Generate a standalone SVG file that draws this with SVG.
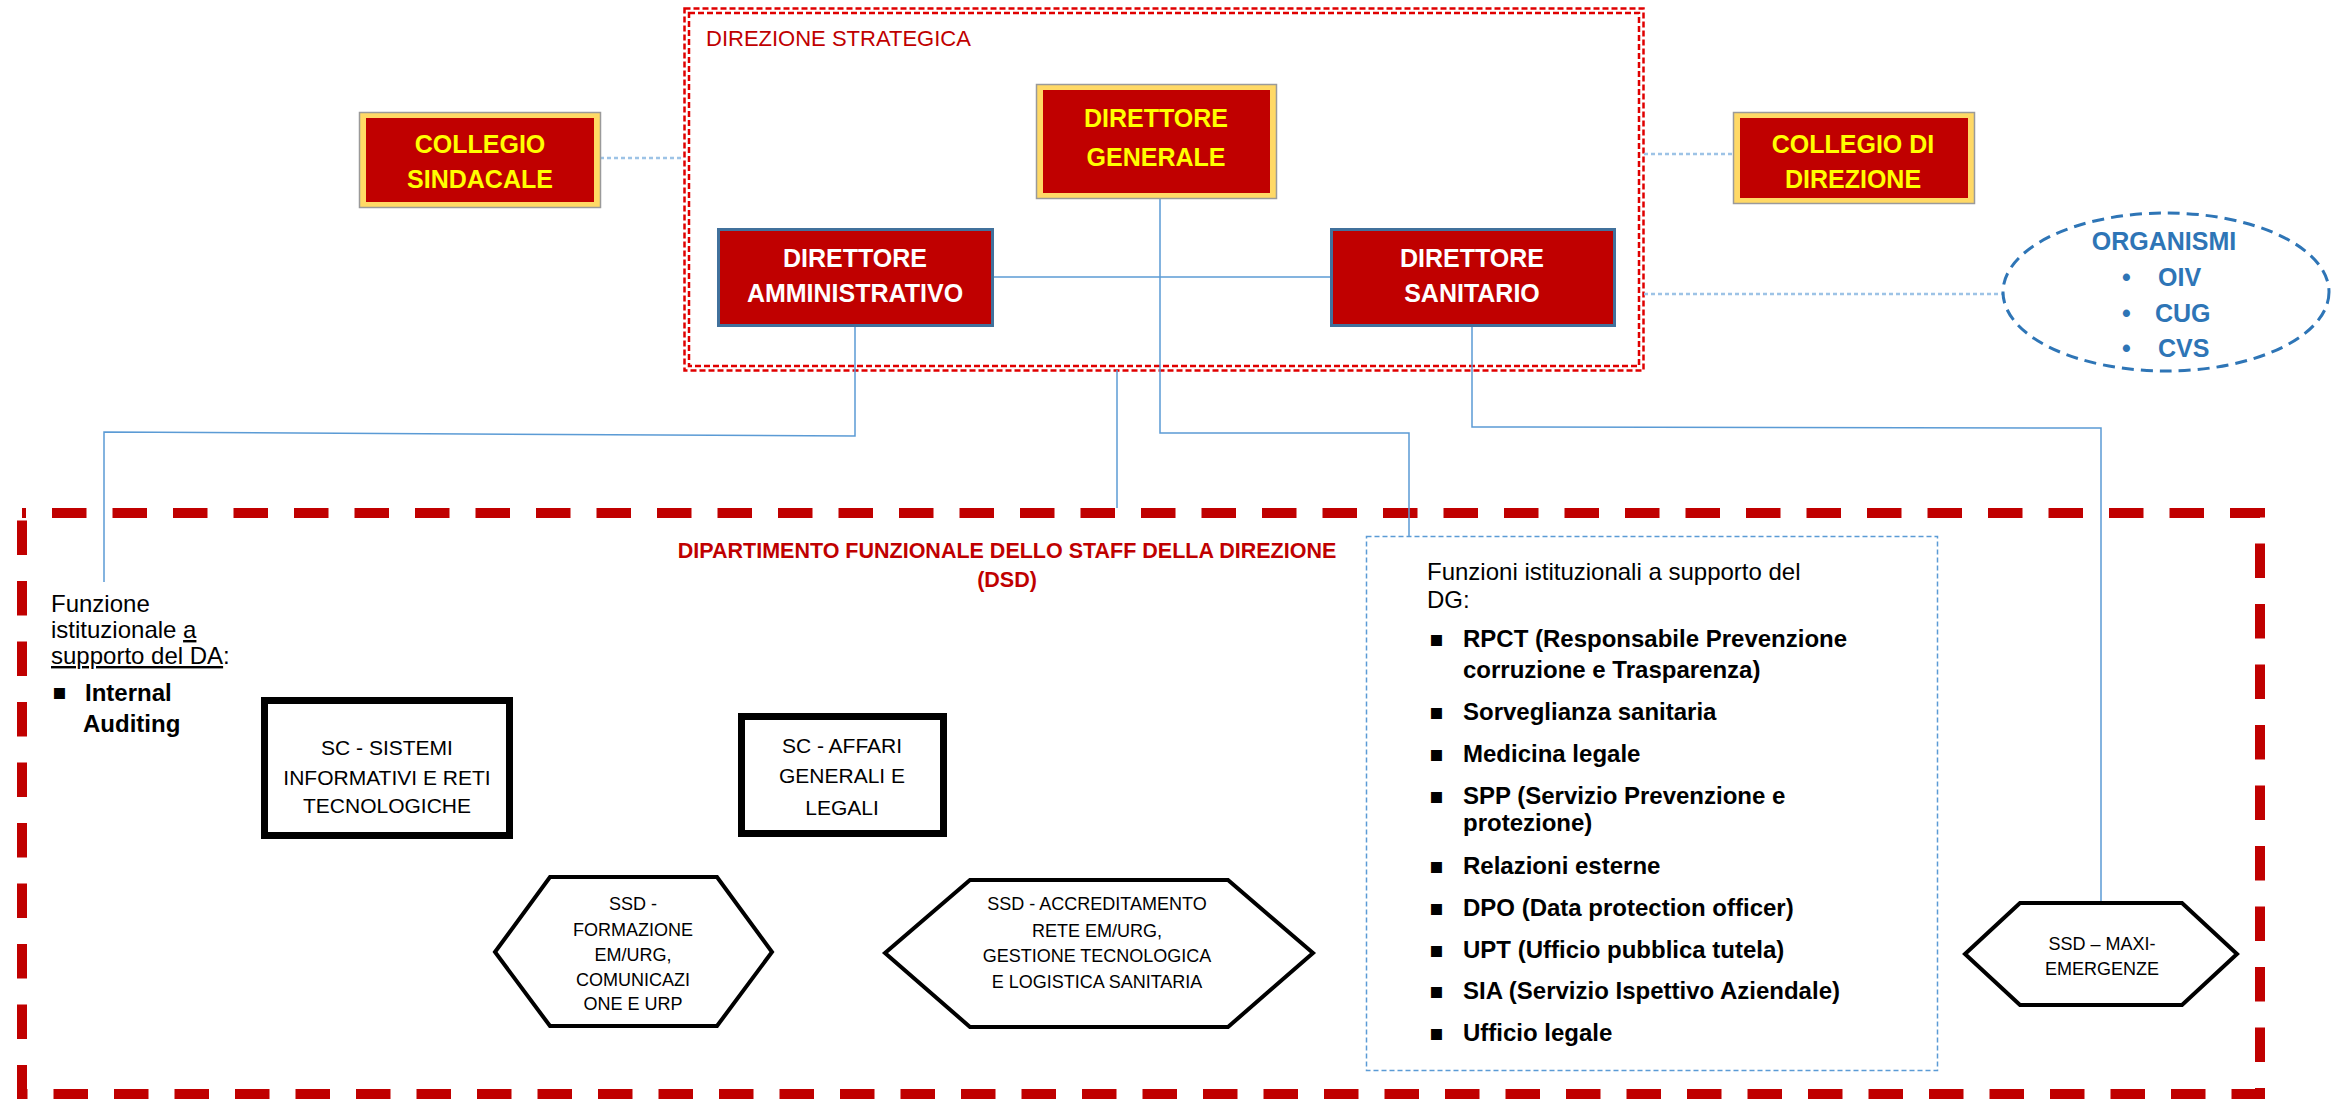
<svg xmlns="http://www.w3.org/2000/svg" width="2341" height="1104" viewBox="0 0 2341 1104">
<style>
text{font-family:"Liberation Sans",Arial,sans-serif}
.gold{fill:#FFD966;stroke:#9A9A9A;stroke-width:1.5}
.red{fill:#C00000}
.dir{fill:#C00000;stroke:#41719C;stroke-width:3}
.yt{fill:#FFFF00;font-weight:bold;font-size:25px;text-anchor:middle}
.wt{fill:#FFFFFF;font-weight:bold;font-size:25px;text-anchor:middle}
.blk{fill:#FFFFFF;stroke:#000;stroke-width:7}
.hex{fill:#FFFFFF;stroke:#000;stroke-width:4;stroke-linejoin:miter}
.bt{fill:#000;font-size:21px;text-anchor:middle}
.ht{fill:#000;font-size:18px;text-anchor:middle}
.conn{fill:none;stroke:#5B9BD5;stroke-width:1.5}
.dconn{fill:none;stroke:#9DC3E6;stroke-width:2.5;stroke-dasharray:4 3}
.ds{fill:none;stroke:#E00000;stroke-width:2.5;stroke-dasharray:6 3}
.org{fill:#2E75B6;font-weight:bold;font-size:25px}
.fn{fill:#000;font-size:24px}
.fb{fill:#000;font-size:24px;font-weight:bold}
.bul{fill:#000;font-size:22px;font-family:"DejaVu Sans",sans-serif}
</style>

<g id="direzione-strategica">
<rect class="ds" x="684.5" y="8.5" width="959" height="362"/>
<rect class="ds" x="689" y="13" width="950" height="353"/>
<text x="706" y="46" font-size="22" fill="#C00000">DIREZIONE STRATEGICA</text>
</g>

<g id="dsd">
<rect x="22" y="513" width="2238" height="581" fill="none" stroke="#C00000" stroke-width="10" stroke-dasharray="34.5 26" stroke-dashoffset="30.5"/>
<text x="1007" y="558" font-size="21.5" font-weight="bold" fill="#C00000" text-anchor="middle">DIPARTIMENTO FUNZIONALE DELLO STAFF DELLA DIREZIONE</text>
<text x="1007" y="587" font-size="21.5" font-weight="bold" fill="#C00000" text-anchor="middle">(DSD)</text>
</g>

<g id="connectors">
<line class="dconn" x1="600" y1="158" x2="684" y2="158"/>
<line class="dconn" x1="1644" y1="154" x2="1733" y2="154"/>
<line class="dconn" x1="1644" y1="294" x2="2003" y2="294"/>
<line class="conn" x1="993" y1="277" x2="1330" y2="277"/>
<polyline class="conn" points="1160,198 1160,433 1409,433 1409,536"/>
<line class="conn" x1="1117" y1="370" x2="1117" y2="508"/>
<polyline class="conn" points="855,326 855,436 104,432 104,582"/>
<polyline class="conn" points="1472,326 1472,427 2101,428 2101,903"/>
</g>

<g id="collegio-sindacale">
<rect class="gold" x="359.5" y="112.5" width="241" height="95"/>
<rect class="red" x="366" y="118" width="228" height="84"/>
<text class="yt" x="480" y="153" font-size="24">COLLEGIO</text>
<text class="yt" x="480" y="188" font-size="24">SINDACALE</text>
</g>

<g id="direttore-generale">
<rect class="gold" x="1036.5" y="84.5" width="240" height="114"/>
<rect class="red" x="1043" y="90" width="227" height="103"/>
<text class="yt" x="1156" y="127">DIRETTORE</text>
<text class="yt" x="1156" y="166">GENERALE</text>
</g>

<g id="collegio-direzione">
<rect class="gold" x="1733.5" y="112.5" width="241" height="91"/>
<rect class="red" x="1740" y="118" width="228" height="80"/>
<text class="yt" x="1853" y="153" font-size="24">COLLEGIO DI</text>
<text class="yt" x="1853" y="188" font-size="24">DIREZIONE</text>
</g>

<g id="direttore-amministrativo">
<rect class="dir" x="718.5" y="229.5" width="274" height="96"/>
<text class="wt" x="855" y="267">DIRETTORE</text>
<text class="wt" x="855" y="302">AMMINISTRATIVO</text>
</g>

<g id="direttore-sanitario">
<rect class="dir" x="1331.5" y="229.5" width="283" height="96"/>
<text class="wt" x="1472" y="267">DIRETTORE</text>
<text class="wt" x="1472" y="302">SANITARIO</text>
</g>

<g id="organismi">
<ellipse cx="2166" cy="292" rx="163" ry="79" fill="none" stroke="#2E75B6" stroke-width="3" stroke-dasharray="12 7"/>
<text class="org" x="2164" y="250" text-anchor="middle">ORGANISMI</text>
<text class="org" x="2122" y="286">•</text><text class="org" x="2158" y="286">OIV</text>
<text class="org" x="2122" y="322">•</text><text class="org" x="2155" y="322">CUG</text>
<text class="org" x="2122" y="357">•</text><text class="org" x="2158" y="357">CVS</text>
</g>

<g id="funzione-da">
<text class="fn" x="51" y="612" font-size="21">Funzione</text>
<text class="fn" x="51" y="638" font-size="21">istituzionale <tspan text-decoration="underline">a</tspan></text>
<text class="fn" x="51" y="664" font-size="21"><tspan text-decoration="underline">supporto del DA</tspan>:</text>
<text class="bul" x="52" y="699" font-size="18">▪</text>
<text class="fb" x="85" y="701" font-size="25">Internal</text>
<text class="fb" x="83" y="732" font-size="25">Auditing</text>
</g>

<g id="sc-sistemi">
<rect class="blk" x="264.5" y="700.5" width="245" height="135"/>
<text class="bt" x="387" y="755">SC - SISTEMI</text>
<text class="bt" x="387" y="785">INFORMATIVI E RETI</text>
<text class="bt" x="387" y="813">TECNOLOGICHE</text>
</g>

<g id="sc-affari">
<rect class="blk" x="741.5" y="716.5" width="202" height="117"/>
<text class="bt" x="842" y="753">SC - AFFARI</text>
<text class="bt" x="842" y="783">GENERALI E</text>
<text class="bt" x="842" y="815">LEGALI</text>
</g>

<g id="ssd-formazione">
<polygon class="hex" points="495,952 550,877 717,877 772,952 717,1026 550,1026"/>
<text class="ht" x="633" y="910">SSD -</text>
<text class="ht" x="633" y="936">FORMAZIONE</text>
<text class="ht" x="633" y="961">EM/URG,</text>
<text class="ht" x="633" y="986">COMUNICAZI</text>
<text class="ht" x="633" y="1010">ONE E URP</text>
</g>

<g id="ssd-accreditamento">
<polygon class="hex" points="885,953 970,880 1228,880 1313,953 1228,1027 970,1027"/>
<text class="ht" x="1097" y="910" font-size="17.5">SSD - ACCREDITAMENTO</text>
<text class="ht" x="1097" y="937" font-size="17.5">RETE EM/URG,</text>
<text class="ht" x="1097" y="962" font-size="17.5">GESTIONE TECNOLOGICA</text>
<text class="ht" x="1097" y="988" font-size="17.5">E LOGISTICA SANITARIA</text>
</g>

<g id="ssd-maxi-emergenze">
<polygon class="hex" points="1965,954 2020,903 2182,903 2237,954 2182,1005 2020,1005"/>
<text class="ht" x="2102" y="950" font-size="17.5">SSD – MAXI-</text>
<text class="ht" x="2102" y="975" font-size="17.5">EMERGENZE</text>
</g>

<g id="funzioni-dg">
<rect x="1366.5" y="536.5" width="571" height="534" fill="#FFFFFF" stroke="#5B9BD5" stroke-width="1.5" stroke-dasharray="5 3"/>
<text class="fn" x="1427" y="580">Funzioni istituzionali a supporto del</text>
<text class="fn" x="1427" y="608">DG:</text>
<text class="bul" x="1429" y="646">▪</text><text class="fb" x="1463" y="647">RPCT (Responsabile Prevenzione</text>
<text class="fb" x="1463" y="678">corruzione e Trasparenza)</text>
<text class="bul" x="1429" y="719">▪</text><text class="fb" x="1463" y="720">Sorveglianza sanitaria</text>
<text class="bul" x="1429" y="761">▪</text><text class="fb" x="1463" y="762">Medicina legale</text>
<text class="bul" x="1429" y="803">▪</text><text class="fb" x="1463" y="804">SPP (Servizio Prevenzione e</text>
<text class="fb" x="1463" y="831">protezione)</text>
<text class="bul" x="1429" y="873">▪</text><text class="fb" x="1463" y="874">Relazioni esterne</text>
<text class="bul" x="1429" y="915">▪</text><text class="fb" x="1463" y="916">DPO (Data protection officer)</text>
<text class="bul" x="1429" y="957">▪</text><text class="fb" x="1463" y="958">UPT (Ufficio pubblica tutela)</text>
<text class="bul" x="1429" y="998">▪</text><text class="fb" x="1463" y="999">SIA (Servizio Ispettivo Aziendale)</text>
<text class="bul" x="1429" y="1040">▪</text><text class="fb" x="1463" y="1041">Ufficio legale</text>
</g>
</svg>
